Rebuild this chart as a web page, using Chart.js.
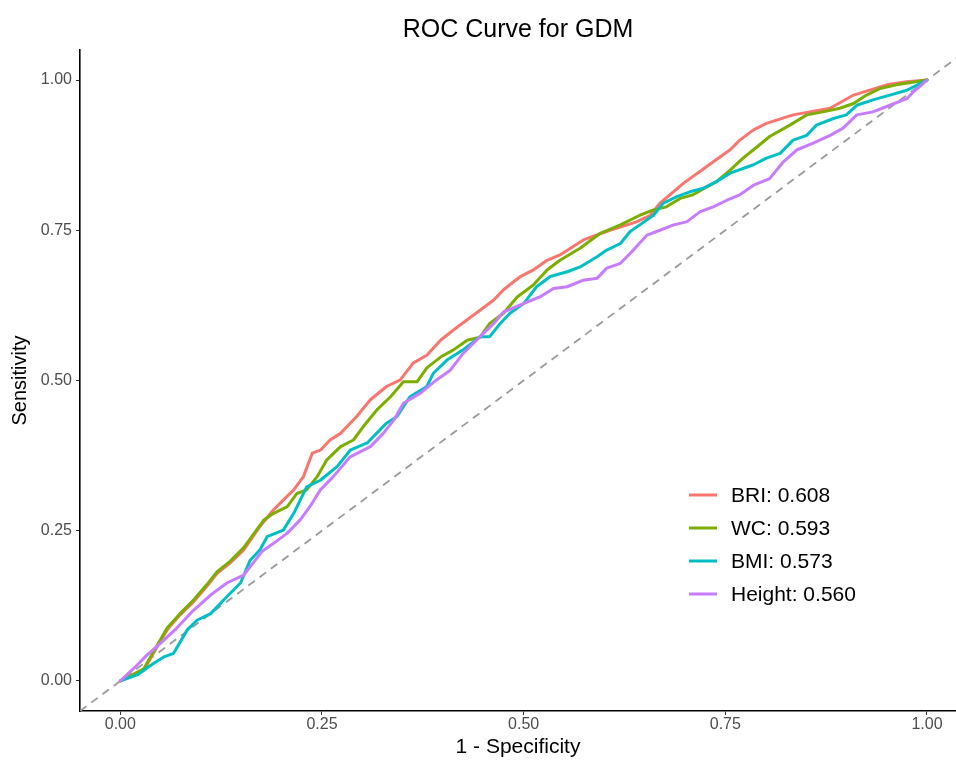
<!DOCTYPE html>
<html>
<head>
<meta charset="utf-8">
<script src="https://cdn.jsdelivr.net/npm/chart.js@4.4.1/dist/chart.umd.min.js"></script>
<style>
  html, body { margin: 0; padding: 0; background: #ffffff; }
  #wrap { width: 956px; height: 760px; }
</style>
</head>
<body>
<div id="wrap"><canvas id="c" width="956" height="760"></canvas></div>
<script>
// ---- data ----
const seriesNames = ['BRI', 'WC', 'BMI', 'Height'];
const aucValues = ['0.608', '0.593', '0.573', '0.560'];
const xTicks = [0, 0.25, 0.5, 0.75, 1];
const yTicks = [0, 0.25, 0.5, 0.75, 1];

const briX = [0,0.029,0.041,0.058,0.074,0.091,0.107,0.120,0.136,0.153,0.173,0.190,0.202,0.215,0.227,0.238,0.248,0.260,0.273,0.293,0.310,0.330,0.347,0.363,0.380,0.397,0.413,0.430,0.446,0.463,0.475,0.496,0.512,0.529,0.545,0.574,0.607,0.640,0.657,0.669,0.698,0.727,0.756,0.768,0.785,0.801,0.834,0.880,0.909,0.950,0.975,1];
const briY = [0,0.018,0.046,0.085,0.110,0.132,0.157,0.179,0.196,0.218,0.257,0.285,0.301,0.318,0.340,0.379,0.384,0.401,0.412,0.440,0.468,0.490,0.501,0.529,0.542,0.567,0.584,0.601,0.617,0.634,0.651,0.673,0.684,0.700,0.709,0.734,0.750,0.764,0.775,0.795,0.828,0.856,0.884,0.900,0.917,0.928,0.942,0.953,0.975,0.992,0.997,1];

const wcX = [0,0.029,0.041,0.058,0.074,0.091,0.107,0.120,0.136,0.153,0.178,0.190,0.207,0.219,0.231,0.244,0.256,0.273,0.289,0.301,0.318,0.335,0.351,0.368,0.380,0.397,0.413,0.430,0.446,0.458,0.475,0.492,0.512,0.529,0.545,0.570,0.595,0.620,0.644,0.661,0.677,0.694,0.710,0.727,0.739,0.756,0.772,0.785,0.805,0.830,0.851,0.871,0.892,0.909,0.925,0.942,0.962,1];
const wcY = [0,0.020,0.048,0.088,0.112,0.135,0.160,0.182,0.199,0.222,0.268,0.279,0.290,0.312,0.318,0.340,0.368,0.390,0.401,0.423,0.451,0.473,0.498,0.498,0.521,0.539,0.551,0.567,0.572,0.595,0.612,0.639,0.659,0.684,0.700,0.720,0.745,0.759,0.775,0.784,0.789,0.803,0.809,0.822,0.831,0.850,0.870,0.884,0.906,0.925,0.942,0.947,0.953,0.961,0.975,0.986,0.992,1];

const bmiX = [0,0.021,0.041,0.054,0.066,0.083,0.095,0.112,0.132,0.149,0.161,0.173,0.182,0.202,0.215,0.231,0.248,0.269,0.285,0.306,0.330,0.343,0.359,0.380,0.388,0.405,0.425,0.446,0.458,0.471,0.483,0.500,0.516,0.533,0.554,0.570,0.591,0.603,0.620,0.632,0.644,0.661,0.673,0.690,0.706,0.723,0.739,0.756,0.785,0.801,0.818,0.834,0.851,0.863,0.884,0.900,0.913,0.933,0.954,0.975,1];
const bmiY = [0,0.010,0.029,0.040,0.046,0.085,0.101,0.112,0.140,0.163,0.201,0.218,0.240,0.251,0.279,0.323,0.334,0.357,0.384,0.396,0.429,0.440,0.473,0.490,0.512,0.534,0.551,0.573,0.573,0.595,0.612,0.628,0.656,0.673,0.681,0.689,0.706,0.717,0.728,0.748,0.759,0.775,0.795,0.806,0.814,0.820,0.831,0.845,0.859,0.870,0.878,0.900,0.908,0.925,0.936,0.942,0.958,0.967,0.975,0.983,1];

const heightX = [0,0.019,0.033,0.050,0.070,0.091,0.112,0.132,0.153,0.176,0.190,0.207,0.223,0.235,0.248,0.264,0.285,0.310,0.326,0.339,0.351,0.372,0.392,0.409,0.425,0.446,0.463,0.475,0.496,0.520,0.537,0.554,0.574,0.591,0.603,0.620,0.636,0.653,0.669,0.686,0.702,0.719,0.735,0.752,0.768,0.785,0.805,0.822,0.839,0.859,0.880,0.896,0.913,0.933,0.950,0.975,0.983,1];
const heightY = [0,0.024,0.043,0.063,0.088,0.118,0.143,0.163,0.176,0.216,0.229,0.246,0.268,0.290,0.318,0.340,0.373,0.390,0.412,0.434,0.462,0.479,0.501,0.517,0.545,0.573,0.595,0.614,0.626,0.639,0.653,0.656,0.667,0.670,0.687,0.695,0.717,0.742,0.750,0.759,0.764,0.781,0.789,0.800,0.809,0.825,0.836,0.864,0.884,0.895,0.908,0.920,0.942,0.947,0.956,0.969,0.980,1];

const refX = [-0.05, 1.05];
const refY = [-0.05, 1.05];

// ---- styling ----
const colors = ['#F8766D', '#7CAE00', '#00BFC4', '#C77CFF'];
const FONT = '"Liberation Sans", Arial, Helvetica, sans-serif';

function pts(xs, ys) {
  const n = Math.min(xs.length, ys.length);
  const out = [];
  for (let i = 0; i < n; i++) out.push({x: xs[i], y: ys[i]});
  return out;
}

const seriesX = [briX, wcX, bmiX, heightX];
const seriesY = [briY, wcY, bmiY, heightY];

const datasets = seriesNames.map((name, i) => ({
  label: name + ': ' + aucValues[i],
  data: pts(seriesX[i], seriesY[i]),
  borderColor: colors[i],
  backgroundColor: colors[i],
  borderWidth: 3,
  pointRadius: 0,
  tension: 0,
  fill: false,
  order: 4 - i,
  borderJoinStyle: 'round',
  borderCapStyle: 'round'
}));

datasets.push({
  label: 'reference',
  data: pts(refX, refY),
  borderColor: '#9a9a9a',
  borderWidth: 1.8,
  borderDash: [8, 6],
  pointRadius: 0,
  tension: 0,
  fill: false,
  order: 10,
  clip: 0
});

const legendPlugin = {
  id: 'insideLegend',
  afterDraw(chart) {
    const ctx = chart.ctx;
    ctx.save();
    const x0 = 689, x1 = 717, tx = 731, y0 = 495, dy = 33;
    seriesNames.forEach((name, i) => {
      const y = y0 + i * dy;
      ctx.strokeStyle = colors[i];
      ctx.lineWidth = 3;
      ctx.lineCap = 'butt';
      ctx.beginPath();
      ctx.moveTo(x0, y);
      ctx.lineTo(x1, y);
      ctx.stroke();
      ctx.fillStyle = '#000000';
      ctx.font = '21px ' + FONT;
      ctx.textAlign = 'left';
      ctx.textBaseline = 'middle';
      ctx.fillText(name + ': ' + aucValues[i], tx, y + 1);
    });
    ctx.restore();
  }
};

new Chart(document.getElementById('c'), {
  type: 'line',
  data: { datasets },
  plugins: [legendPlugin],
  options: {
    responsive: false,
    animation: false,
    devicePixelRatio: 1,
    layout: { padding: 0 },
    plugins: {
      legend: { display: false },
      tooltip: { enabled: false },
      title: {
        display: true,
        text: 'ROC Curve for GDM',
        fullSize: false,
        color: '#000000',
        font: { family: FONT, size: 25, weight: 'normal', lineHeight: 1.2 },
        padding: { top: 15, bottom: 5 }
      }
    },
    scales: {
      x: {
        type: 'linear',
        min: -0.05,
        max: 1.036,
        afterBuildTicks(scale) { scale.ticks = xTicks.map(v => ({value: v})); },
        afterFit(scale) { scale.height = 49; },
        ticks: {
          color: '#4D4D4D',
          font: { family: FONT, size: 16 },
          padding: 0,
          maxRotation: 0,
          callback: v => Number(v).toFixed(2)
        },
        grid: { display: true, drawOnChartArea: false, drawTicks: true, tickLength: 4, color: '#333333', lineWidth: 1 },
        border: { display: true, color: '#000000', width: 1.6 },
        title: {
          display: true,
          text: '1 - Specificity',
          color: '#000000',
          font: { family: FONT, size: 21, lineHeight: 1.2 },
          padding: { top: 0, bottom: 0 }
        }
      },
      y: {
        type: 'linear',
        min: -0.05,
        max: 1.05,
        afterBuildTicks(scale) { scale.ticks = yTicks.map(v => ({value: v})); },
        afterFit(scale) { scale.width = 80; },
        ticks: {
          color: '#4D4D4D',
          font: { family: FONT, size: 16 },
          padding: 4,
          callback: v => Number(v).toFixed(2)
        },
        grid: { display: true, drawOnChartArea: false, drawTicks: true, tickLength: 4, color: '#333333', lineWidth: 1 },
        border: { display: true, color: '#000000', width: 1.6 },
        title: {
          display: true,
          text: 'Sensitivity',
          color: '#000000',
          font: { family: FONT, size: 20, lineHeight: 1.2 },
          padding: { top: 8, bottom: 0 }
        }
      }
    }
  }
});
</script>
</body>
</html>
